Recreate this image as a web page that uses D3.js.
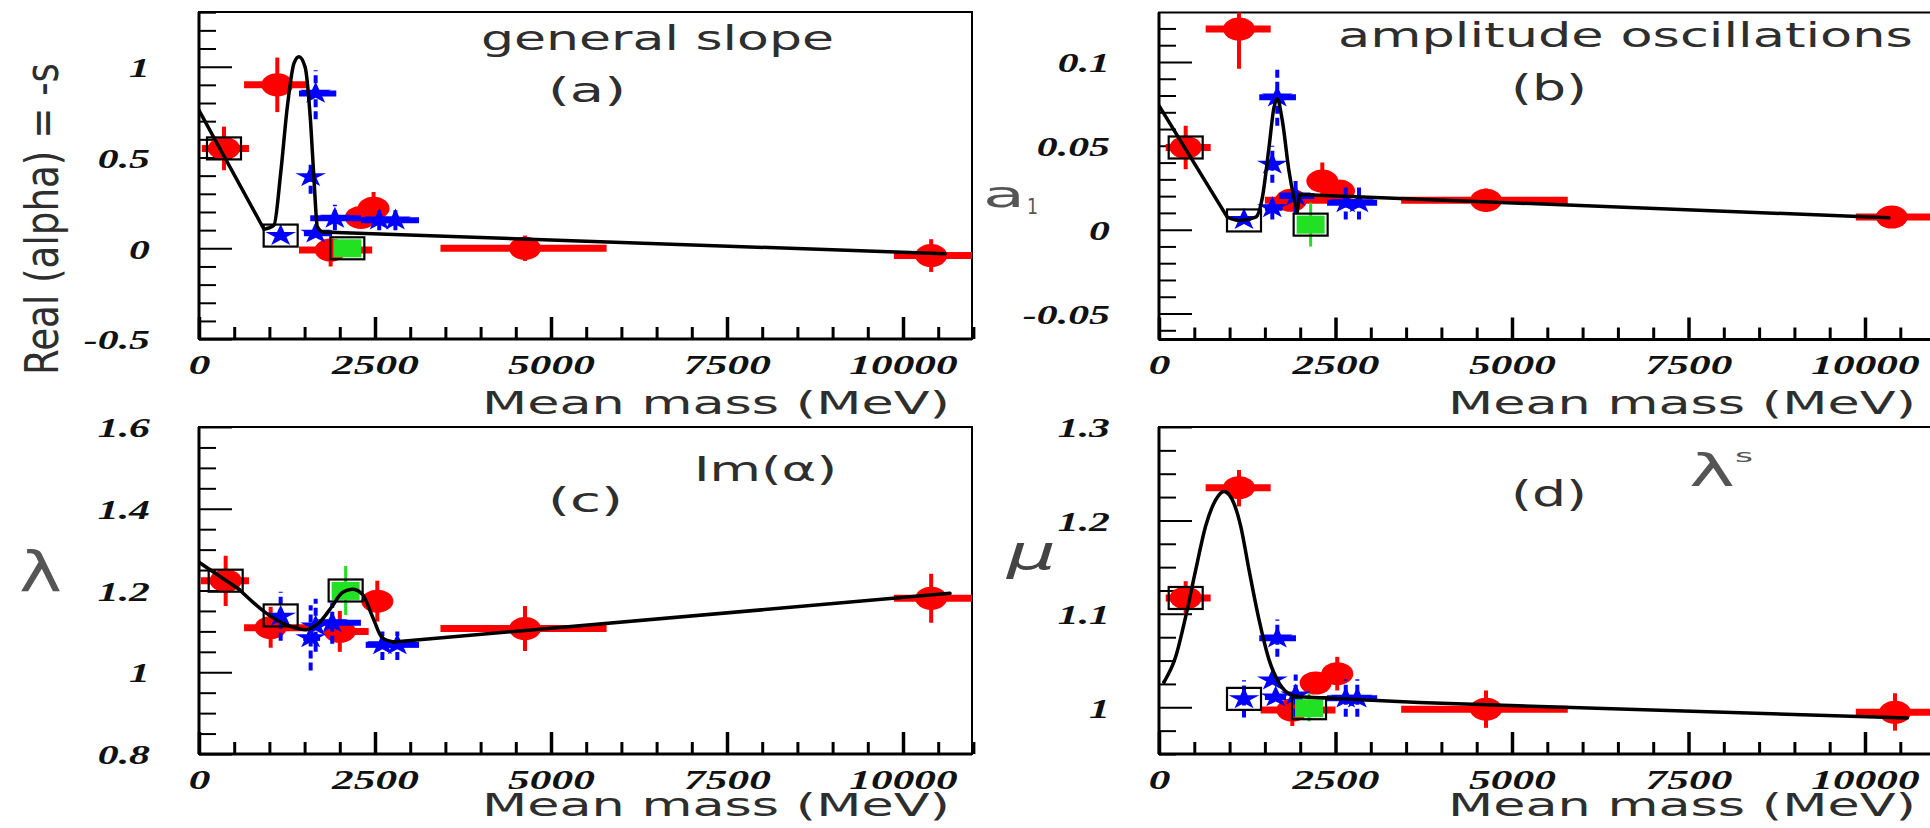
<!DOCTYPE html>
<html><head><meta charset="utf-8">
<script src="https://cdn.jsdelivr.net/npm/d3@7"></script>
<style>body{margin:0;background:#fff;} svg{display:block;}</style>
</head><body>
<svg id="c" width="1930" height="828"></svg>
<script>
// ---------- shared axis values ----------
const massTicks = [0, 2500, 5000, 7500, 10000];
const massTickLabels = ["0", "2500", "5000", "7500", "10000"];
const massDomain = [0, 11000];

// point rows: [mass, value, massLo, massHi, valueLo, valueHi]  (null = no bar)
// ---------- panel (a) general slope ----------
const aYTicks = [-0.5, 0, 0.5, 1];
const aYLabels = ["-0.5", "0", "0.5", "1"];
const aRed = [
  [355, 0.55, 40, 710, 0.43, 0.67],
  [1112, 0.90, 640, 1560, 0.75, 1.05],
  [1870, -0.01, 1420, 2460, -0.10, 0.05],
  [2300, 0.17, null, null, null, null],
  [2480, 0.22, null, null, 0.13, 0.31],
  [4630, 0.00, 3430, 5790, -0.07, 0.07],
  [10400, -0.04, 9870, 11200, -0.13, 0.05]
];
const aBlue = [
  [1160, 0.07, null, null, null, null],
  [1657, 0.853, 1420, 1950, 0.71, 0.98],
  [1586, 0.394, null, null, 0.30, 0.46],
  [1657, 0.083, 1490, 1890, null, null],
  [1930, 0.165, 1580, 2300, 0.10, 0.24],
  [2560, 0.155, 2300, 2790, 0.10, 0.21],
  [2790, 0.155, 2560, 3125, 0.10, 0.21]
];
const aGreen = [[2107, 0.0, null, null, -0.04, 0.04]];
const aBoxes = [[355, 0.55], [1160, 0.07], [2107, 0.0]];
const aCurveIn = [[0, 0.76], [923, 0.105]];
const aCurvePeak = [[923,0.105],[1065,0.128],[1160,0.413],[1255,0.78],[1350,1.02],[1420,1.055],[1506,1.0],[1586,0.69],[1634,0.376],[1681,0.119],[1752,0.09]];
const aCurveOut = [[1752, 0.09], [10600, -0.03]];

// ---------- panel (b) amplitude oscillations ----------
const bYTicks = [-0.05, 0, 0.05, 0.1];
const bYLabels = ["-0.05", "0", "0.05", "0.1"];
const bRed = [
  [1133, 0.1196, 661, 1582, 0.096, 0.145],
  [378, 0.049, 95, 732, 0.036, 0.062],
  [1870, 0.0175, 1500, 2500, null, null],
  [2313, 0.029, null, null, 0.018, 0.040],
  [2550, 0.023, null, null, null, null],
  [4632, 0.0175, 3430, 5790, 0.0105, 0.0245],
  [10380, 0.0075, 9870, 11200, null, null]
];
const bBlue = [
  [1675, 0.079, 1420, 1940, 0.062, 0.097],
  [1605, 0.039, null, null, 0.028, 0.050],
  [1605, 0.013, 1500, 1750, 0.006, 0.020],
  [1935, 0.020, 1700, 2200, 0.010, 0.030],
  [2645, 0.016, 2380, 2750, 0.006, 0.026],
  [2833, 0.016, 2700, 3090, 0.006, 0.026],
  [1204, 0.006, null, null, null, null]
];
const bGreen = [[2148, 0.003, null, null, -0.010, 0.016]];
const bBoxes = [[378, 0.049], [1204, 0.0055], [2148, 0.003]];
const bCurveIn = [[0, 0.074], [967, 0.0075]];
const bCurvePeak = [[967,0.0075],[1133,0.0055],[1370,0.0075],[1463,0.019],[1558,0.049],[1629,0.073],[1676,0.078],[1747,0.065],[1841,0.035],[1912,0.019],[1959,0.011]];
const bCurveOut = [[1959, 0.011], [1990, 0.021], [10340, 0.0071]];

// ---------- panel (c) Im(alpha) ----------
const cYTicks = [0.8, 1, 1.2, 1.4, 1.6];
const cYLabels = ["0.8", "1", "1.2", "1.4", "1.6"];
const cRed = [
  [379, 1.224, 25, 710, 1.162, 1.285],
  [1018, 1.109, 640, 1560, 1.06, 1.16],
  [2000, 1.10, 1830, 2410, 1.05, 1.15],
  [2533, 1.174, null, null, 1.124, 1.224],
  [4631, 1.107, 3430, 5790, 1.052, 1.162],
  [10400, 1.181, 9870, 11200, 1.121, 1.241]
];
const cBlue = [
  [1160, 1.137, null, null, 1.077, 1.197],
  [1586, 1.084, 1480, 1720, 1.004, 1.164],
  [1657, 1.113, null, null, 1.05, 1.18],
  [1893, 1.121, 1700, 2300, 1.07, 1.17],
  [2605, 1.067, 2368, 2750, 1.03, 1.10],
  [2817, 1.067, 2700, 3125, 1.03, 1.10]
];
const cGreen = [[2083, 1.199, null, null, 1.14, 1.26]];
const cBoxes = [[379, 1.224], [1160, 1.139], [2083, 1.2]];
const cCurveIn = [[0, 1.269], [568, 1.203]];
const cCurvePeak = [[568,1.203],[945,1.146],[1229,1.117],[1513,1.104],[1705,1.121],[1894,1.162],[2036,1.195],[2178,1.203],[2320,1.191],[2462,1.137],[2604,1.084],[2766,1.074]];
const cCurveOut = [[2766, 1.074], [10668, 1.193]];

// ---------- panel (d) lambda^s ----------
const dYTicks = [1, 1.1, 1.2, 1.3];
const dYLabels = ["1", "1.1", "1.2", "1.3"];
const dRed = [
  [1133, 1.235, 661, 1582, 1.215, 1.254],
  [378, 1.117, 95, 732, 1.099, 1.135],
  [1888, 0.997, 1440, 2500, 0.98, 1.015],
  [2219, 1.026, null, null, null, null],
  [2525, 1.036, null, null, 1.018, 1.054],
  [4632, 0.998, 3430, 5790, 0.978, 1.018],
  [10425, 0.9946, 9870, 11200, 0.975, 1.015]
];
const dBlue = [
  [1204, 1.009, null, null, 0.989, 1.029],
  [1676, 1.074, 1420, 1940, 1.054, 1.094],
  [1605, 1.029, null, null, null, null],
  [1653, 1.011, 1500, 1800, null, null],
  [1936, 1.013, null, null, 0.99, 1.035],
  [2645, 1.0097, 2380, 2750, 0.99, 1.03],
  [2809, 1.0097, 2700, 3090, 0.99, 1.03]
];
const dGreen = [[2125, 0.999, null, null, 0.985, 1.015]];
const dBoxes = [[378, 1.117], [1204, 1.009], [2125, 0.999]];
const dCurveIn = [[71, 1.027], [71, 1.027]];
const dCurvePeak = [[71,1.027],[236,1.054],[378,1.097],[520,1.147],[661,1.194],[803,1.222],[921,1.231],[1039,1.222],[1157,1.194],[1275,1.147],[1416,1.094],[1558,1.051],[1700,1.026],[1888,1.013],[2125,1.0107]];
const dCurveOut = [[2125, 1.0107], [3683, 1.005], [10600, 0.9885]];

// ---------- drawing ----------
const SX = 1.55;
const svg = d3.select("#c");
const TICKFONT = "'Liberation Serif', 'DejaVu Serif', serif";
const SANS = "'DejaVu Sans', 'Liberation Sans', sans-serif";

const panels = [
  {id:"a", x0:199, x1:972, xr:[199, 973.4], y0:12, y1:339, yd:[-0.5, 1.3], yr:[339.1, 12.2],
   yT:aYTicks, yL:aYLabels, minStep:0.1, red:aRed, blue:aBlue, green:aGreen, boxes:aBoxes,
   curves:[[aCurveIn, false], [aCurvePeak, true], [aCurveOut, false]]},
  {id:"b", x0:1159, x1:1936, xr:[1159, 1935.6], y0:12.5, y1:339.5, yd:[-0.0655, 0.1295], yr:[339.5, 12.5],
   yT:bYTicks, yL:bYLabels, minStep:0.01, red:bRed, blue:bBlue, green:bGreen, boxes:bBoxes,
   curves:[[bCurveIn, false], [bCurvePeak, true], [bCurveOut, false]]},
  {id:"c", x0:199, x1:972, xr:[199, 973.4], y0:427, y1:754, yd:[0.8, 1.6], yr:[754, 427],
   yT:cYTicks, yL:cYLabels, minStep:0.05, red:cRed, blue:cBlue, green:cGreen, boxes:cBoxes,
   curves:[[cCurveIn, false], [cCurvePeak, true], [cCurveOut, false]]},
  {id:"d", x0:1159, x1:1936, xr:[1159, 1935.6], y0:427, y1:754, yd:[0.95, 1.3], yr:[754, 427],
   yT:dYTicks, yL:dYLabels, minStep:0.025, red:dRed, blue:dBlue, green:dGreen, boxes:dBoxes,
   curves:[[dCurveIn, false], [dCurvePeak, true], [dCurveOut, false]]}
];

const defs = svg.append("defs");

panels.forEach(p => {
  const x = d3.scaleLinear().domain(massDomain).range(p.xr);
  const y = d3.scaleLinear().domain(p.yd).range(p.yr);
  const g = svg.append("g").attr("class", "panel-" + p.id);

  defs.append("clipPath").attr("id", "clip-" + p.id)
    .append("rect").attr("x", p.x0).attr("y", p.y0).attr("width", p.x1 - p.x0).attr("height", p.y1 - p.y0);

  // minor ticks
  const yMin = [];
  for (let v = Math.ceil(p.yd[0] / p.minStep - 1e-9) * p.minStep; v <= p.yd[1] + 1e-9; v += p.minStep) {
    const r = +v.toFixed(4);
    if (!p.yT.some(t => Math.abs(t - r) < 1e-9)) yMin.push(r);
  }
  const xMin = d3.range(500, 11001, 500).filter(v => v % 2500 !== 0);

  g.append("g").attr("transform", `translate(${p.x0},0)`)
    .call(d3.axisLeft(y).tickValues(yMin).tickFormat("").tickSizeInner(-17).tickSizeOuter(0))
    .call(s => s.select(".domain").remove())
    .call(s => s.selectAll("line").attr("stroke", "#000").attr("stroke-width", 2));

  g.append("g").attr("transform", `translate(0,${p.y1})`)
    .call(d3.axisBottom(x).tickValues(xMin).tickFormat("").tickSizeInner(-12).tickSizeOuter(0))
    .call(s => s.select(".domain").remove())
    .call(s => s.selectAll("line").attr("stroke", "#000").attr("stroke-width", 3));

  // major y axis
  g.append("g").attr("transform", `translate(${p.x0},0)`)
    .call(d3.axisLeft(y).tickValues(p.yT).tickFormat((d, i) => p.yL[i]).tickSizeInner(-33).tickSizeOuter(0).tickPadding(0))
    .call(s => s.select(".domain").remove())
    .call(s => s.selectAll("line").attr("stroke", "#000").attr("stroke-width", 2))
    .call(s => s.selectAll("text")
      .attr("x", -49 / SX).attr("dy", "0.36em").attr("transform", `scale(${SX},1)`)
      .attr("font-family", TICKFONT).attr("font-weight", "bold").attr("font-style", "italic")
      .attr("font-size", 27).attr("fill", "#111"));

  // major x axis
  g.append("g").attr("transform", `translate(0,${p.y1})`)
    .call(d3.axisBottom(x).tickValues(massTicks).tickFormat((d, i) => massTickLabels[i]).tickSizeInner(-22).tickSizeOuter(0).tickPadding(0))
    .call(s => s.select(".domain").remove())
    .call(s => s.selectAll("line").attr("stroke", "#000").attr("stroke-width", 3.5))
    .call(s => s.selectAll("text")
      .attr("y", 35).attr("dy", 0).attr("transform", `scale(${SX},1)`)
      .attr("font-family", TICKFONT).attr("font-weight", "bold").attr("font-style", "italic")
      .attr("font-size", 28).attr("fill", "#111"));

  // frame
  g.append("rect").attr("x", p.x0).attr("y", p.y0).attr("width", p.x1 - p.x0).attr("height", p.y1 - p.y0)
    .attr("fill", "none").attr("stroke", "#000").attr("stroke-width", 2);
  g.append("line").attr("x1", p.x0).attr("x2", p.x0).attr("y1", p.y0).attr("y2", p.y1)
    .attr("stroke", "#000").attr("stroke-width", 3);
  g.append("line").attr("x1", p.x0).attr("x2", p.x1).attr("y1", p.y1).attr("y2", p.y1)
    .attr("stroke", "#000").attr("stroke-width", 3);

  // data
  const dg = g.append("g").attr("clip-path", `url(#clip-${p.id})`);

  function bars(rows, color, hw, vw, dash) {
    dg.append("g").selectAll("line.h").data(rows.filter(r => r[2] != null)).join("line")
      .attr("x1", r => x(r[2])).attr("x2", r => x(r[3])).attr("y1", r => y(r[1])).attr("y2", r => y(r[1]))
      .attr("stroke", color).attr("stroke-width", hw);
    dg.append("g").selectAll("line.v").data(rows.filter(r => r[4] != null)).join("line")
      .attr("x1", r => x(r[0])).attr("x2", r => x(r[0])).attr("y1", r => y(r[4])).attr("y2", r => y(r[5]))
      .attr("stroke", color).attr("stroke-width", vw).attr("stroke-dasharray", dash || null);
  }

  bars(p.red, "#ff0000", 7, 4);
  dg.append("g").selectAll("ellipse").data(p.red).join("ellipse")
    .attr("cx", r => x(r[0])).attr("cy", r => y(r[1])).attr("rx", 16).attr("ry", 11.5).attr("fill", "#ff0000");

  bars(p.blue, "#0000ff", 6, 4, "8,4");
  const star = d3.symbol().type(d3.symbolStar).size(150);
  dg.append("g").selectAll("path").data(p.blue).join("path")
    .attr("d", star).attr("transform", r => `translate(${x(r[0])},${y(r[1])}) scale(1.4,1)`)
    .attr("fill", "#0000ff");

  bars(p.green, "#22dd22", 4, 3);
  dg.append("g").selectAll("rect").data(p.green).join("rect")
    .attr("x", r => x(r[0]) - 14).attr("y", r => y(r[1]) - 9).attr("width", 28).attr("height", 18)
    .attr("fill", "#22e022");

  p.curves.forEach(([pts, smooth]) => {
    const line = d3.line().x(d => x(d[0])).y(d => y(d[1])).curve(smooth ? d3.curveMonotoneX : d3.curveLinear);
    dg.append("path").datum(pts).attr("d", line).attr("fill", "none")
      .attr("stroke", "#000").attr("stroke-width", 3.5).attr("stroke-linejoin", "round").attr("stroke-linecap", "round");
  });

  dg.append("g").selectAll("rect").data(p.boxes).join("rect")
    .attr("x", r => x(r[0]) - 17).attr("y", r => y(r[1]) - 11).attr("width", 34).attr("height", 22)
    .attr("fill", "none").attr("stroke", "#000").attr("stroke-width", 2.2);
});

// ---------- texts ----------
function label(str, x, baseline, size, width, opts = {}) {
  const t = svg.append("text").attr("x", x).attr("y", baseline)
    .attr("font-family", opts.family || SANS).attr("font-size", size)
    .attr("fill", opts.fill || "#2e2e2e")
    .attr("textLength", width).attr("lengthAdjust", "spacingAndGlyphs")
    .text(str);
  if (opts.style) t.attr("font-style", opts.style);
  if (opts.weight) t.attr("font-weight", opts.weight);
  return t;
}

label("general slope", 481, 50, 34, 353);
label("(a)", 548, 102, 34, 78);
label("amplitude oscillations", 1338, 47, 34, 575);
label("(b)", 1511, 100, 36, 76);
label("Im(\u03b1)", 694, 481, 33, 143);
label("(c)", 548, 512, 34, 75);
label("(d)", 1511, 506, 35, 76);
label("\u03bb", 1689, 486, 44, 46, {fill: "#555"});
label("s", 1735, 462, 18, 18, {fill: "#555"});

[[482, 414], [1448, 414], [482, 816], [1448, 816]].forEach(([x0, b]) => label("Mean mass (MeV)", x0, b, 32, 468));

// y axis titles
svg.append("text")
  .attr("transform", `translate(58,375) scale(${SX},1) rotate(-90)`)
  .attr("font-family", SANS).attr("font-size", 30).attr("fill", "#2e2e2e")
  .attr("textLength", 312).attr("lengthAdjust", "spacingAndGlyphs")
  .text("Real (alpha) = -s");
label("a", 983, 207, 36, 42, {fill: "#555"});
label("1", 1027, 214, 21, 11, {fill: "#555"});
label("\u03bb", 19, 591, 56, 43, {fill: "#555"});
label("\u03bc", 1007, 569, 48, 49, {style: "italic", fill: "#444"});
</script>
</body></html>
